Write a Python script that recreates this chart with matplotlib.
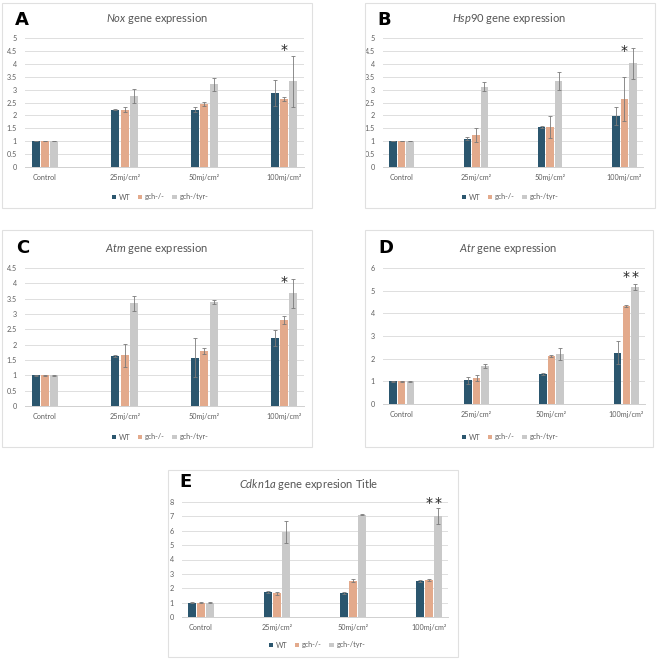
import numpy as np
import matplotlib
matplotlib.use('Agg')
import matplotlib.pyplot as plt
from matplotlib.patches import Rectangle

plt.rcParams['font.family'] = ['Lato', 'DejaVu Sans']
plt.rcParams['mathtext.fontset'] = 'custom'
plt.rcParams['mathtext.rm'] = 'Lato'
plt.rcParams['mathtext.it'] = 'Lato:italic'

categories = ['Control', '25mj/cm²', '50mj/cm²', '100mj/cm²']
series_names = ['WT', 'gch-/-', 'gch-/tyr-']
colors = ['#2b566e', '#e3aa8c', '#c9c9c9']

# Nox
nox_vals = [[1.0, 2.22, 2.22, 2.87], [1.0, 2.22, 2.45, 2.65], [1.0, 2.75, 3.20, 3.32]]
nox_err = [[0.01, 0.02, 0.10, 0.52], [0.01, 0.10, 0.08, 0.08], [0.01, 0.28, 0.25, 0.98]]
# Hsp90
hsp_vals = [[1.0, 1.10, 1.55, 1.97], [1.0, 1.25, 1.55, 2.65], [1.0, 3.12, 3.33, 4.02]]
hsp_err = [[0.01, 0.05, 0.03, 0.35], [0.01, 0.27, 0.43, 0.85], [0.01, 0.17, 0.35, 0.60]]
# Atm
atm_vals = [[1.0, 1.63, 1.58, 2.22], [1.0, 1.65, 1.80, 2.80], [1.0, 3.35, 3.40, 3.67]]
atm_err = [[0.01, 0.02, 0.65, 0.27], [0.01, 0.37, 0.10, 0.14], [0.01, 0.25, 0.06, 0.47]]
# Atr
atr_vals = [[1.0, 1.05, 1.33, 2.27], [1.0, 1.15, 2.12, 4.32], [1.0, 1.67, 2.20, 5.17]]
atr_err = [[0.01, 0.15, 0.05, 0.52], [0.01, 0.12, 0.06, 0.03], [0.01, 0.10, 0.25, 0.12]]
# Cdkn1a
cdk_vals = [[1.0, 1.75, 1.68, 2.48], [1.0, 1.65, 2.52, 2.57], [1.0, 5.90, 7.12, 7.05]]
cdk_err = [[0.01, 0.05, 0.07, 0.07], [0.01, 0.10, 0.10, 0.10], [0.01, 0.78, 0.03, 0.55]]

W, H = 658, 661
fig = plt.figure(figsize=(W / 100, H / 100), dpi=100)


def px_rect(x0, y0, x1, y1):
    return [x0 / W, 1 - y1 / H, (x1 - x0) / W, (y1 - y0) / H]


def draw_panel(letter, gene, suffix, vals, errs, ymax, ystep, stars,
               box, axbox, title_xy, letter_xy, legend_xy):
    # panel frame
    fig.add_artist(Rectangle((box[0] / W, 1 - box[3] / H), (box[2] - box[0]) / W,
                             (box[3] - box[1]) / H, transform=fig.transFigure,
                             fill=False, edgecolor='#e0e0e0', linewidth=0.8))
    ax = fig.add_axes(px_rect(*axbox))
    x = np.arange(len(categories))
    width = 0.1
    step = 0.115
    for i, name in enumerate(series_names):
        ax.bar(x + (i - 1) * step, vals[i], width, color=colors[i], label=name,
               yerr=errs[i], zorder=3,
               error_kw=dict(ecolor='#7a7a7a', elinewidth=0.6, capsize=1.3, capthick=0.6))
    for (g, s, yv) in stars:
        ax.text(g + (s - 1) * step, yv, '*', ha='center', va='center', fontsize=10,
                color='#222222', family='DejaVu Sans')
    ax.set_xlim(-0.25, 3.25)
    ax.set_ylim(0, ymax)
    ax.set_yticks(np.arange(0, ymax + 0.001, ystep))
    ax.set_yticklabels([('%g' % t) for t in np.arange(0, ymax + 0.001, ystep)])
    ax.set_xticks(x)
    ax.set_xticklabels(categories)
    ax.yaxis.grid(True, color='#dedede', linewidth=0.7, zorder=0)
    ax.set_axisbelow(True)
    for sp in ['top', 'right', 'left']:
        ax.spines[sp].set_visible(False)
    ax.spines['bottom'].set_color('#d0d0d0')
    ax.spines['bottom'].set_linewidth(0.7)
    ax.tick_params(axis='both', length=0, labelsize=5.2, labelcolor='#5f5f5f')
    ax.tick_params(axis='x', pad=5)
    ax.tick_params(axis='y', pad=6)
    fig.text(title_xy[0] / W, 1 - title_xy[1] / H, r'$\it{' + gene + '}$' + suffix,
             ha='center', va='center', fontsize=8, color='#555555')
    fig.text(letter_xy[0] / W, 1 - letter_xy[1] / H, letter, ha='center', va='center',
             fontsize=13, fontweight='bold', color='black', family='DejaVu Sans')
    ax.legend(loc='center', bbox_to_anchor=(legend_xy[0] / W, 1 - legend_xy[1] / H),
              bbox_transform=fig.transFigure, ncol=3, frameon=False, fontsize=5.2,
              handlelength=0.6, handleheight=0.6, handletextpad=0.4,
              columnspacing=1.0, labelcolor='#5f5f5f')
    return ax


draw_panel('A', 'Nox', ' gene expression', nox_vals, nox_err, 5, 0.5, [(3, 1, 4.55)],
           (2, 3, 312, 208), (25, 38, 304, 167), (157, 18), (22, 20), (160, 197))
draw_panel('B', 'Hsp90', ' gene expression', hsp_vals, hsp_err, 5, 0.5, [(3, 1, 4.5)],
           (365, 3, 655, 208), (383, 38, 643, 167), (509, 18), (384, 20), (510, 197))
draw_panel('C', 'Atm', ' gene expression', atm_vals, atm_err, 4.5, 0.5, [(3, 1, 4.05)],
           (2, 230, 312, 447), (25, 268, 304, 406), (157, 248), (23, 248), (160, 437))
draw_panel('D', 'Atr', ' gene expression', atr_vals, atr_err, 6, 1, [(3, 1, 5.6), (3, 2, 5.6)],
           (365, 230, 653, 447), (383, 268, 645, 404), (508, 248), (386, 248), (510, 437))
draw_panel('E', 'Cdkn1a', ' gene expresion Title', cdk_vals, cdk_err, 8, 1,
           [(3, 1, 7.9), (3, 2, 7.9)],
           (168, 470, 458, 657), (182, 502, 448, 617), (309, 485), (185, 482), (317, 645))

fig.savefig('out.png', dpi=100)
